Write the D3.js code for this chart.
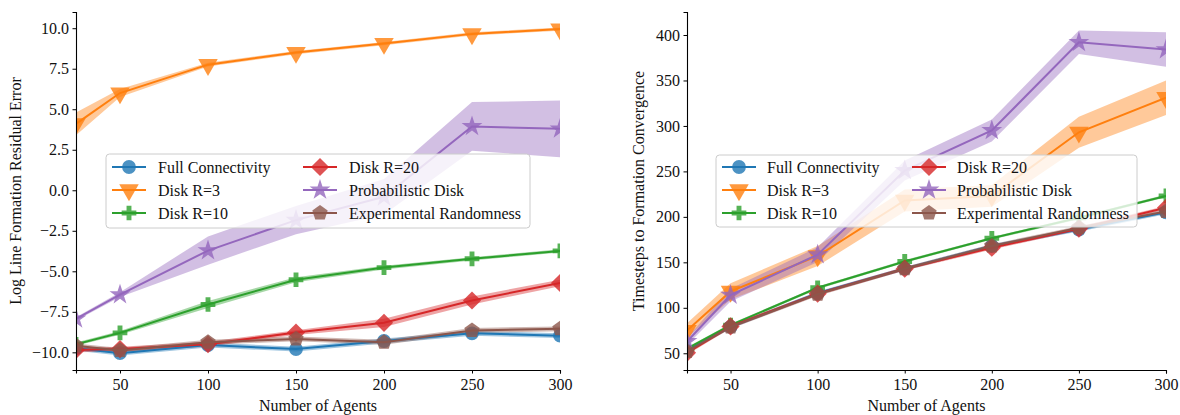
<!DOCTYPE html>
<html><head><meta charset="utf-8">
<script src="https://cdn.jsdelivr.net/npm/d3@7"></script>
<style>
body{margin:0;background:#fff}
svg{display:block}
text{font-family:"Liberation Serif","Times New Roman",serif;fill:#111}
</style>
</head><body>
<svg id="chart" width="1180" height="415"></svg>
<script>
// ---------------- data ----------------
const agents = [25, 50, 100, 150, 200, 250, 300];
const xTicks = [50, 100, 150, 200, 250, 300];
const seriesNames = ["Full Connectivity", "Disk R=3", "Disk R=10", "Disk R=20", "Probabilistic Disk", "Experimental Randomness"];
const seriesColors = ["#1f77b4", "#ff7f0e", "#2ca02c", "#d62728", "#9467bd", "#8c564b"];

// Left panel: log line formation residual error (mean) and band half-width
const errFull = [-9.75, -10.05, -9.55, -9.8, -9.3, -8.83, -8.97];
const errR3   = [4.1, 6.0, 7.75, 8.5, 9.05, 9.65, 9.95];
const errR10  = [-9.5, -8.8, -7.05, -5.52, -4.77, -4.23, -3.74];
const errR20  = [-9.85, -9.8, -9.5, -8.78, -8.18, -6.8, -5.72];
const errProb = [-7.93, -6.44, -3.72, -1.84, -0.4, 3.94, 3.79];
const errExp  = [-9.6, -9.88, -9.38, -9.17, -9.38, -8.65, -8.55];
const errFullSd = [0.15, 0.15, 0.15, 0.15, 0.15, 0.15, 0.15];
const errR3Sd   = [0.7, 0.25, 0.12, 0.1, 0.1, 0.1, 0.1];
const errR10Sd  = [0.1, 0.12, 0.22, 0.15, 0.12, 0.1, 0.1];
const errR20Sd  = [0.15, 0.15, 0.15, 0.15, 0.25, 0.25, 0.2];
const errProbSd = [0.1, 0.15, 0.87, 0.87, 1.1, 1.5, 1.75];
const errExpSd  = [0.15, 0.15, 0.15, 0.15, 0.15, 0.15, 0.15];
const errTicks = [-10, -7.5, -5, -2.5, 0, 2.5, 5, 7.5, 10];

// Right panel: timesteps to formation convergence (mean) and band half-width
const stepsFull = [53, 79, 116, 143, 168, 186, 205];
const stepsR3   = [75, 118, 157, 218, 223, 293, 331];
const stepsR10  = [55, 81, 122, 151, 176.5, 199, 223];
const stepsR20  = [50.5, 79.5, 115.5, 143, 166, 187, 210];
const stepsProb = [63, 114, 158.5, 251, 295, 392, 384];
const stepsExp  = [52, 79, 115, 143, 168, 188, 206];
const stepsFullSd = [2, 2, 2, 2, 2, 2, 2];
const stepsR3Sd   = [8, 9, 11, 12, 12, 17, 19];
const stepsR10Sd  = [1.5, 1.5, 1.5, 1.5, 1.5, 1.5, 1.5];
const stepsR20Sd  = [2, 2, 2, 2, 2, 2, 2];
const stepsProbSd = [4, 7, 8, 11, 12, 13, 19];
const stepsExpSd  = [2, 2, 2, 2, 2, 2, 2];
const stepsTicks = [50, 100, 150, 200, 250, 300, 350, 400];

// ---------------- markers ----------------
const pentagon = {
  draw(ctx, size) {
    const r = Math.sqrt(size / 2.378);
    for (let i = 0; i < 5; i++) {
      const a = -Math.PI / 2 + i * 2 * Math.PI / 5;
      const px = r * Math.cos(a), py = r * Math.sin(a);
      if (i === 0) ctx.moveTo(px, py); else ctx.lineTo(px, py);
    }
    ctx.closePath();
  }
};
const markerDefs = [
  {type: d3.symbolCircle, size: 150, rot: 0},
  {type: d3.symbolTriangle, size: 165, rot: 180},
  {type: d3.symbolCross, size: 120, rot: 0},
  {type: d3.symbolSquare, size: 165, rot: 45},
  {type: d3.symbolStar, size: 135, rot: 0},
  {type: pentagon, size: 155, rot: 0}
];

const svg = d3.select("#chart");
const FS = 16;
const SERIF = '"Liberation Serif","Times New Roman",serif';

function panel(cfg) {
  const x = d3.scaleLinear().domain([25, 300]).range([cfg.x0, cfg.x1]);
  const y = d3.scaleLinear().domain(cfg.domain).range([cfg.yb, cfg.yt]);
  const g = svg.append("g");
  const clipId = "clip" + cfg.id;
  svg.append("clipPath").attr("id", clipId).append("rect")
    .attr("x", cfg.x0).attr("y", cfg.yt).attr("width", cfg.x1 - cfg.x0).attr("height", cfg.yb - cfg.yt);
  const plot = g.append("g").attr("clip-path", `url(#${clipId})`);

  // bands
  cfg.series.forEach((s, i) => {
    const area = d3.area().x((d, k) => x(agents[k]))
      .y0((d, k) => y(s.mean[k] - s.sd[k])).y1((d, k) => y(s.mean[k] + s.sd[k]));
    plot.append("path").attr("d", area(s.mean)).attr("fill", seriesColors[i]).attr("fill-opacity", 0.42);
  });
  // lines + markers
  cfg.series.forEach((s, i) => {
    const line = d3.line().x((d, k) => x(agents[k])).y(d => y(d));
    plot.append("path").attr("d", line(s.mean)).attr("fill", "none")
      .attr("stroke", seriesColors[i]).attr("stroke-width", 2);
    const m = markerDefs[i];
    const sym = d3.symbol().type(m.type).size(m.size);
    plot.selectAll(null).data(s.mean).enter().append("path")
      .attr("d", sym)
      .attr("transform", (d, k) => `translate(${x(agents[k])},${y(d)}) rotate(${m.rot})`)
      .attr("fill", seriesColors[i]).attr("fill-opacity", 0.8);
  });

  // axes
  const xAxis = d3.axisBottom(x).tickValues(xTicks).tickSizeOuter(0).tickSize(3.5).tickPadding(4);
  const yAxis = d3.axisLeft(y).tickValues(cfg.ticks).tickSizeOuter(0).tickSize(3.5).tickPadding(3.5)
    .tickFormat(cfg.fmt);
  const gx = g.append("g").attr("transform", `translate(0,${cfg.yb})`).call(xAxis);
  const gy = g.append("g").attr("transform", `translate(${cfg.x0},0)`).call(yAxis);
  [gx, gy].forEach(a => {
    a.attr("font-family", SERIF).attr("font-size", FS);
    a.select(".domain").attr("stroke", "#000").attr("stroke-width", 1.1);
    a.selectAll(".tick line").attr("stroke", "#000").attr("stroke-width", 1);
    a.selectAll(".tick text").attr("font-size", FS).attr("fill", "#111")
      .attr("font-family", SERIF).style("font-family", SERIF);
  });
  gx.selectAll(".tick text").attr("dy", "0.75em");

  // labels
  g.append("text").attr("x", (cfg.x0 + cfg.x1) / 2).attr("y", 411).attr("text-anchor", "middle")
    .attr("font-size", FS).text("Number of Agents");
  g.append("text").attr("transform", `translate(${cfg.ylabX},${(cfg.yt + cfg.yb) / 2}) rotate(-90)`)
    .attr("text-anchor", "middle").attr("font-size", FS).text(cfg.ylabel);

  // legend
  const L = cfg.legend;
  g.append("rect").attr("x", L.x).attr("y", L.y).attr("width", L.w).attr("height", L.h)
    .attr("rx", 3.5).attr("fill", "#fff").attr("fill-opacity", 0.8)
    .attr("stroke", "#cccccc").attr("stroke-width", 1);
  const rows = [167, 190, 213];
  seriesNames.forEach((name, i) => {
    const col = Math.floor(i / 3), row = i % 3;
    const hx = L.cols[col], cy = rows[row];
    g.append("line").attr("x1", hx).attr("x2", hx + 34).attr("y1", cy).attr("y2", cy)
      .attr("stroke", seriesColors[i]).attr("stroke-width", 2);
    const m = markerDefs[i];
    g.append("path").attr("d", d3.symbol().type(m.type).size(m.size)())
      .attr("transform", `translate(${hx + 17},${cy}) rotate(${m.rot})`)
      .attr("fill", seriesColors[i]).attr("fill-opacity", 0.8);
    g.append("text").attr("x", hx + L.tx).attr("y", cy + 5.5).attr("font-size", FS).text(name);
  });
}

panel({
  id: "L", x0: 76, x1: 560, yt: 12, yb: 370, domain: [-11.09, 11.0],
  ticks: errTicks, fmt: d3.format(".1f"), ylabX: 21,
  ylabel: "Log Line Formation Residual Error",
  series: [
    {mean: errFull, sd: errFullSd}, {mean: errR3, sd: errR3Sd}, {mean: errR10, sd: errR10Sd},
    {mean: errR20, sd: errR20Sd}, {mean: errProb, sd: errProbSd}, {mean: errExp, sd: errExpSd}
  ],
  legend: {x: 106, y: 154, w: 424, h: 74, cols: [112, 303], tx: 46}
});

panel({
  id: "R", x0: 687, x1: 1166, yt: 12, yb: 370, domain: [31.6, 425.3],
  ticks: stepsTicks, fmt: d3.format("d"), ylabX: 644,
  ylabel: "Timesteps to Formation Convergence",
  series: [
    {mean: stepsFull, sd: stepsFullSd}, {mean: stepsR3, sd: stepsR3Sd}, {mean: stepsR10, sd: stepsR10Sd},
    {mean: stepsR20, sd: stepsR20Sd}, {mean: stepsProb, sd: stepsProbSd}, {mean: stepsExp, sd: stepsExpSd}
  ],
  legend: {x: 716, y: 155, w: 421, h: 72, cols: [722, 912], tx: 45}
});
</script>
</body></html>
